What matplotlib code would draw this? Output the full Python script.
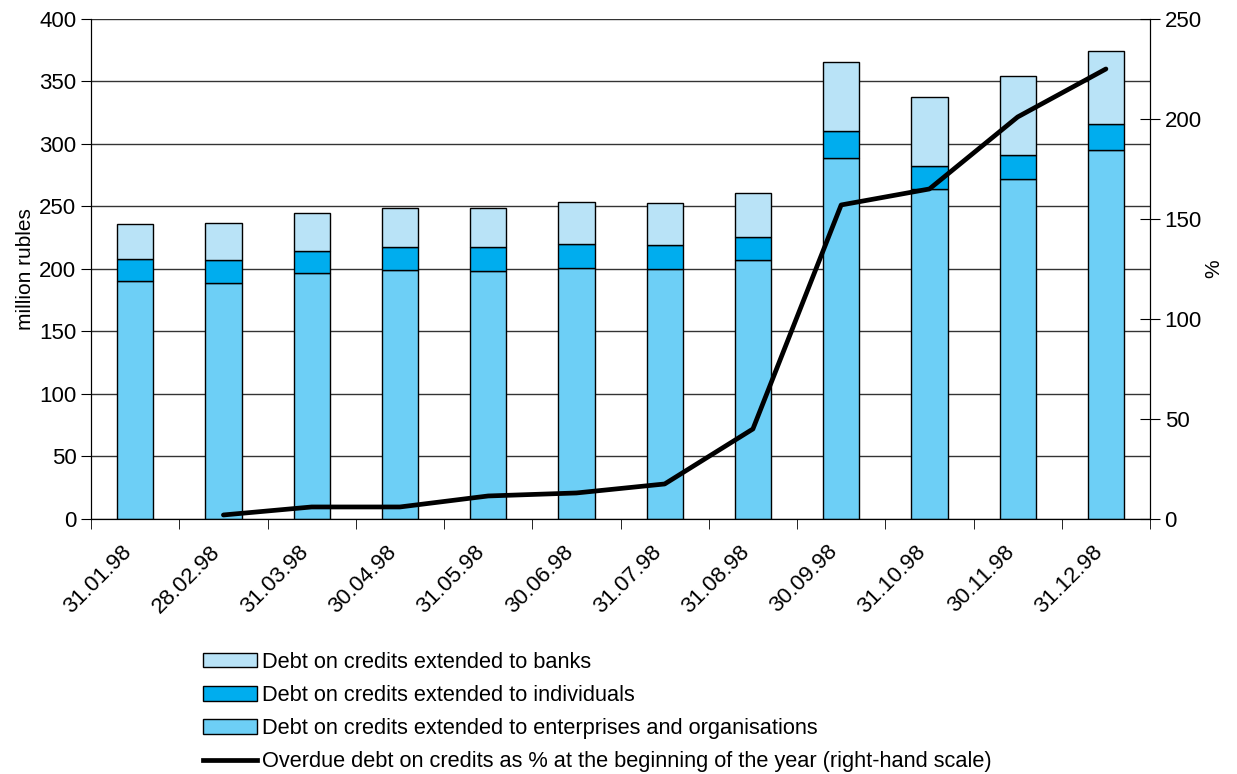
import matplotlib
matplotlib.use('Agg')
import matplotlib.pyplot as plt
import matplotlib.transforms as mtransforms
import numpy as np
from matplotlib.patches import Patch
from matplotlib.lines import Line2D

dates = ['31.01.98', '28.02.98', '31.03.98', '30.04.98', '31.05.98', '30.06.98',
         '31.07.98', '31.08.98', '30.09.98', '31.10.98', '30.11.98', '31.12.98']

# million rubles, stacked: enterprises at the bottom, then individuals, then banks
enterprises = [190.5, 189, 196.5, 199, 198, 201, 200.3, 207, 288.5, 263.7, 271.7, 295.4]
individuals = [17.3, 18.5, 18, 18.6, 19.6, 18.7, 18.6, 18.9, 21.9, 19, 19.2, 20.3]
banks = [28.4, 29, 29.9, 31.2, 31.2, 33.6, 33.6, 34.6, 55.2, 54.6, 63.5, 58.7]

# overdue debt, % (right-hand scale), from 28.02.98
overdue_idx = [1, 2, 3, 4, 5, 6, 7, 8, 9, 10, 11]
overdue_pct = [2, 6, 6, 11.5, 13, 17.5, 45, 157, 165, 201, 225]

c_ent = '#6dcff6'
c_ind = '#00adee'
c_bank = '#b9e3f7'

plt.rcParams['font.family'] = ['Liberation Sans', 'DejaVu Sans']

fig = plt.figure(figsize=(12.37, 7.74), dpi=100)
ax = fig.add_axes([0.0736, 0.3295, 0.8561, 0.646])

x = np.arange(len(dates))
ent = np.array(enterprises)
ind = np.array(individuals)
bnk = np.array(banks)
w = 0.41
ax.bar(x, ent, w, color=c_ent, edgecolor='black', linewidth=1, zorder=2)
ax.bar(x, ind, w, bottom=ent, color=c_ind, edgecolor='black', linewidth=1, zorder=2)
ax.bar(x, bnk, w, bottom=ent + ind, color=c_bank, edgecolor='black', linewidth=1, zorder=2)

ax.set_xlim(-0.5, len(dates) - 0.5)
ax.set_ylim(0, 400)
ax.set_yticks(range(0, 401, 50))
ax.yaxis.grid(True, color='#333333', linewidth=1)
ax.set_axisbelow(True)
ax.tick_params(axis='y', labelsize=16, length=7, direction='out')
ax.set_ylabel('million rubles', fontsize=15, labelpad=3)

ax.set_xticks(x)
ax.set_xticklabels(dates, rotation=45, ha='right', va='top', rotation_mode='anchor', fontsize=16)
ax.tick_params(axis='x', length=0, pad=16)
shift = mtransforms.ScaledTranslation(-14 / 100, 0, fig.dpi_scale_trans)
for lbl in ax.get_xticklabels():
    lbl.set_transform(lbl.get_transform() + shift)
ax.set_xticks(np.arange(-0.5, len(dates) + 0.5, 1), minor=True)
ax.tick_params(axis='x', which='minor', length=7, direction='out')
ax.spines['top'].set_visible(False)

ax2 = ax.twinx()
ax2.plot(overdue_idx, overdue_pct, color='black', linewidth=3.4, solid_capstyle='round', zorder=5)
ax2.set_ylim(0, 250)
ax2.set_yticks(range(0, 251, 50))
ax2.tick_params(axis='y', labelsize=16, length=14, direction='inout')
ax2.set_ylabel('%', fontsize=15, labelpad=2)
ax2.spines['top'].set_visible(False)

handles = [
    Patch(facecolor=c_bank, edgecolor='black', linewidth=1),
    Patch(facecolor=c_ind, edgecolor='black', linewidth=1),
    Patch(facecolor=c_ent, edgecolor='black', linewidth=1),
    Line2D([0], [0], color='black', linewidth=3.4),
]
labels = [
    'Debt on credits extended to banks',
    'Debt on credits extended to individuals',
    'Debt on credits extended to enterprises and organisations',
    'Overdue debt on credits as % at the beginning of the year (right-hand scale)',
]
fig.legend(handles, labels, loc='upper left', bbox_to_anchor=(0.164, 0.158),
           frameon=False, fontsize=15.7, handlelength=2.5, handleheight=0.65,
           handletextpad=0.2, labelspacing=0.56, borderpad=0, borderaxespad=0)

fig.savefig('out.png', dpi=100)
